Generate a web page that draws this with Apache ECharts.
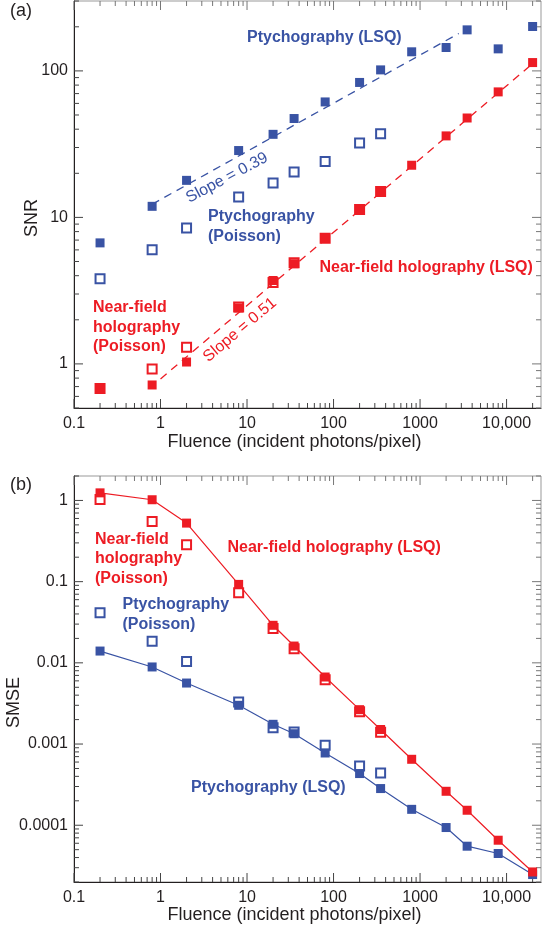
<!DOCTYPE html>
<html>
<head>
<meta charset="utf-8">
<title>SNR and SMSE vs fluence</title>
<script src="https://cdn.jsdelivr.net/npm/echarts@6/dist/echarts.min.js"></script>
<style>
html, body { margin: 0; padding: 0; background: #fff; }
#main { width: 544px; height: 930px; }
</style>
</head>
<body>
<div id="main"></div>
<script>
// fluence values (incident photons/pixel)
var fluence = [0.2, 0.8, 2, 8, 20, 35, 80, 200, 350, 800, 2000, 3500, 8000, 20000];
var fluencePoisson = [0.2, 0.8, 2, 8, 20, 35, 80, 200, 350];

// (a) SNR
var snrPtychoLSQ = [6.7, 11.9, 17.9, 28.6, 36.9, 47.3, 61.4, 83.4, 101.6, 135, 144.5, 190.6, 141.4, 201];
var snrPtychoPoisson = [3.81, 6.02, 8.45, 13.8, 17.2, 20.4, 24.1, 32.2, 37.3];
var snrHoloLSQ = [0.675, 0.718, 1.03, 2.41, 3.71, 4.83, 7.22, 11.5, 15.1, 22.7, 36.0, 47.7, 71.9, 114];
var snrHoloPoisson = [0.68, 0.924, 1.30, 2.45, 3.6, 4.9, 7.2, 11.3, 15.0];
// fitted slopes, end points
var snrPtychoFit = [[0.8, 12.3], [2800, 180]];
var snrHoloFit = [[1, 0.79], [20000, 112]];

// (b) SMSE
var smseHoloLSQ = [1.24, 1.02, 0.526, 0.0925, 0.029, 0.0161, 0.00669, 0.00265, 0.00151, 0.000649, 0.000262, 0.000153, 0.0000654, 0.0000266];
var smseHoloPoisson = [1.03, 0.552, 0.285, 0.073, 0.0265, 0.0149, 0.0062, 0.0025, 0.0014];
var smsePtychoLSQ = [0.01397, 0.0089, 0.00564, 0.0030, 0.00175, 0.00134, 0.000776, 0.000433, 0.000283, 0.000157, 0.0000937, 0.0000552, 0.0000449, 0.0000247];
var smsePtychoPoisson = [0.0415, 0.0184, 0.0104, 0.00329, 0.00159, 0.00141, 0.000966, 0.000537, 0.00044];

// tick labels
var xTicks = [0.1, 1, 10, 100, 1000, 10000];
var xTickLabels = ['0.1', '1', '10', '100', '1000', '10,000'];
var snrTicks = [1, 10, 100];
var snrTickLabels = ['1', '10', '100'];
var smseTicks = [0.0001, 0.001, 0.01, 0.1, 1];
var smseTickLabels = ['0.0001', '0.001', '0.01', '0.1', '1'];

var xRange = [0.1, 25000];
var snrRange = [0.5, 300];
var smseRange = [0.00002, 2];

var BLUE = '#3953a4';
var RED = '#ed1c24';
var INK = '#231f20';
var FONT = '"Liberation Sans", Arial, Helvetica, sans-serif';

var myChart = echarts.init(document.getElementById('main'));

function pairs(xs, ys) {
    return ys.map(function (y, i) { return [xs[i], y]; });
}

function labelFmt(ticks, labels) {
    return function (v) {
        for (var i = 0; i < ticks.length; i++) {
            if (Math.abs(Math.log10(v / ticks[i])) < 1e-6) return labels[i];
        }
        return '';
    };
}

// 1..9 x 10^n inside [lo, hi]
function tickValues(lo, hi) {
    var out = [];
    for (var e = Math.floor(Math.log10(lo)); e <= Math.ceil(Math.log10(hi)); e++) {
        for (var m = 1; m <= 9; m++) {
            var v = m * Math.pow(10, e);
            if (v >= lo * 0.999 && v <= hi * 1.001) out.push([v, m === 1 ? 1 : 0]);
        }
    }
    return out;
}

// inward ticks on all four sides, placed through the axes' own scales
function tickSeries(gi, xr, yr) {
    var data = [];
    tickValues(xr[0], xr[1]).forEach(function (t) { data.push([t[0], yr[0], 0, t[1]]); });
    tickValues(yr[0], yr[1]).forEach(function (t) { data.push([xr[0], t[0], 1, t[1]]); });
    return {
        type: 'custom', xAxisIndex: gi, yAxisIndex: gi, silent: true, clip: false, z: 1,
        data: data,
        renderItem: function (params, api) {
            var isY = api.value(2), len = api.value(3) ? 9 : 5, a, b, segs;
            if (!isY) {
                a = api.coord([api.value(0), yr[0]]);
                b = api.coord([api.value(0), yr[1]]);
                segs = [[a[0], a[1], a[0], a[1] - len], [b[0], b[1], b[0], b[1] + len]];
            } else {
                a = api.coord([xr[0], api.value(1)]);
                b = api.coord([xr[1], api.value(1)]);
                segs = [[a[0], a[1], a[0] + len, a[1]], [b[0], b[1], b[0] - len, b[1]]];
            }
            return {
                type: 'group',
                children: segs.map(function (s, k) {
                    return {
                        type: 'line',
                        shape: { x1: s[0], y1: s[1], x2: s[2], y2: s[3] },
                        style: { stroke: k === 0 ? '#444' : '#777', lineWidth: 1 }
                    };
                })
            };
        }
    };
}

function filled(gi, xs, ys, color, asLine) {
    return {
        type: asLine ? 'line' : 'scatter', xAxisIndex: gi, yAxisIndex: gi, z: 4,
        data: pairs(xs, ys),
        symbol: 'rect', symbolSize: 9,
        itemStyle: { color: color, opacity: 1 },
        lineStyle: { color: color, width: 1.2 }
    };
}

function open(gi, xs, ys, color) {
    return {
        type: 'scatter', xAxisIndex: gi, yAxisIndex: gi, z: 3,
        data: pairs(xs, ys),
        symbol: 'rect', symbolSize: 9,
        itemStyle: { color: 'rgba(255,255,255,0)', borderColor: color, borderWidth: 2, opacity: 1 }
    };
}

function fitLine(gi, pts, color) {
    return {
        type: 'line', xAxisIndex: gi, yAxisIndex: gi, z: 2,
        data: pts, symbol: 'none',
        lineStyle: { color: color, width: 1.3, type: [8, 6] }
    };
}

function xAxisOf(gi) {
    return {
        type: 'log', gridIndex: gi, min: xRange[0], max: xRange[1],
        axisLine: { lineStyle: { color: INK, width: 1 } },
        axisTick: { show: false }, splitLine: { show: false },
        axisLabel: { formatter: labelFmt(xTicks, xTickLabels), color: INK, fontSize: 16, fontFamily: FONT, margin: 8 }
    };
}

function yAxisOf(gi, range, ticks, labels) {
    return {
        type: 'log', gridIndex: gi, min: range[0], max: range[1],
        axisLine: { lineStyle: { color: INK, width: 1 } },
        axisTick: { show: false }, splitLine: { show: false },
        axisLabel: { formatter: labelFmt(ticks, labels), color: INK, fontSize: 16, fontFamily: FONT, margin: 6 }
    };
}

function txt(x, y, text, color, opts) {
    opts = opts || {};
    return {
        type: 'text', x: x, y: y, rotation: opts.rot || 0, z: 10,
        style: {
            text: text, fill: color,
            font: (opts.bold ? 'bold ' : '') + (opts.size || 16) + 'px ' + FONT,
            textAlign: opts.align || 'left', textVerticalAlign: 'middle',
            lineHeight: opts.lh || 20
        }
    };
}

var option = {
    animation: false,
    grid: [
        { left: 74, right: 1.5, top: 1, height: 407, show: true, borderColor: '#999', borderWidth: 1 },
        { left: 74, right: 1.5, top: 476, height: 406, show: true, borderColor: '#999', borderWidth: 1 }
    ],
    xAxis: [xAxisOf(0), xAxisOf(1)],
    yAxis: [
        yAxisOf(0, snrRange, snrTicks, snrTickLabels),
        yAxisOf(1, smseRange, smseTicks, smseTickLabels)
    ],
    series: [
        tickSeries(0, xRange, snrRange),
        tickSeries(1, xRange, smseRange),
        fitLine(0, snrPtychoFit, BLUE),
        fitLine(0, snrHoloFit, RED),
        open(0, fluencePoisson, snrPtychoPoisson, BLUE),
        open(0, fluencePoisson, snrHoloPoisson, RED),
        filled(0, fluence, snrPtychoLSQ, BLUE, false),
        filled(0, fluence, snrHoloLSQ, RED, false),
        open(1, fluencePoisson, smsePtychoPoisson, BLUE),
        open(1, fluencePoisson, smseHoloPoisson, RED),
        filled(1, fluence, smsePtychoLSQ, BLUE, true),
        filled(1, fluence, smseHoloLSQ, RED, true)
    ],
    graphic: [
        txt(21, 11, '(a)', INK, { size: 18, align: 'center' }),
        txt(21, 485, '(b)', INK, { size: 18, align: 'center' }),
        txt(294.5, 442, 'Fluence (incident photons/pixel)', INK, { size: 18, align: 'center' }),
        txt(294.5, 915, 'Fluence (incident photons/pixel)', INK, { size: 18, align: 'center' }),
        txt(32.5, 218, 'SNR', INK, { size: 18, align: 'center', rot: Math.PI / 2 }),
        txt(14, 702.5, 'SMSE', INK, { size: 18, align: 'center', rot: Math.PI / 2 }),
        // panel (a) annotations
        txt(247, 38, 'Ptychography (LSQ)', BLUE, { bold: true }),
        txt(208, 226.5, 'Ptychography\n(Poisson)', BLUE, { bold: true, lh: 19.5 }),
        txt(319.5, 268, 'Near-field holography (LSQ)', RED, { bold: true }),
        txt(93, 327.5, 'Near-field\nholography\n(Poisson)', RED, { bold: true, lh: 19.5 }),
        txt(227, 178, 'Slope = 0.39', BLUE, { align: 'center', rot: 28 * Math.PI / 180 }),
        txt(240, 330, 'Slope = 0.51', RED, { align: 'center', rot: 40 * Math.PI / 180 }),
        // panel (b) annotations
        txt(95, 559, 'Near-field\nholography\n(Poisson)', RED, { bold: true, lh: 19.5 }),
        txt(227.5, 547.5, 'Near-field holography (LSQ)', RED, { bold: true }),
        txt(122.5, 614.5, 'Ptychography\n(Poisson)', BLUE, { bold: true, lh: 20.5 }),
        txt(191, 787.5, 'Ptychography (LSQ)', BLUE, { bold: true })
    ]
};

myChart.setOption(option);
</script>
</body>
</html>
